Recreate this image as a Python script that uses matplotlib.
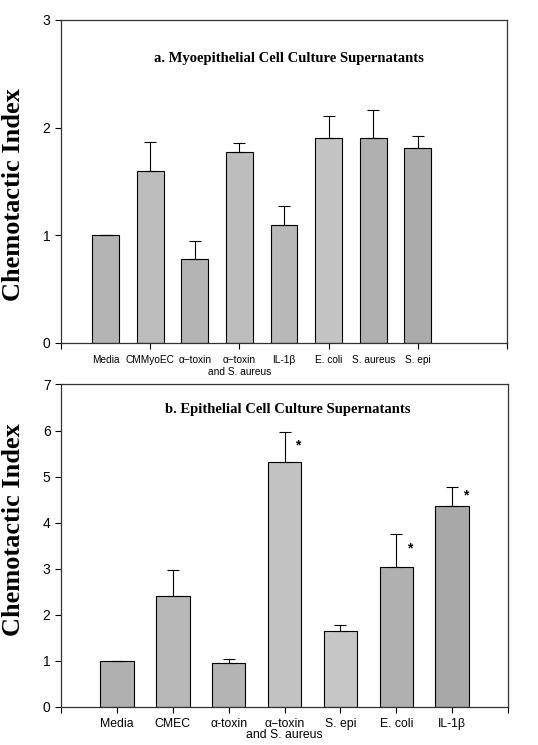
import matplotlib
matplotlib.use('Agg')
import matplotlib.pyplot as plt

# ---- data: panel a (myoepithelial) ----
cats_a = ['Media', 'CMMyoEC', 'α−toxin', 'α−toxin\nand S. aureus', 'IL-1β',
          'E. coli', 'S. aureus', 'S. epi']
vals_a = [1.0, 1.60, 0.78, 1.77, 1.10, 1.90, 1.90, 1.81]
errs_a = [0.0, 0.27, 0.17, 0.09, 0.17, 0.21, 0.26, 0.11]
shade_a = ['#b4b4b4', '#bcbcbc', '#b4b4b4', '#bdbdbd', '#b8b8b8', '#c4c4c4',
           '#b0b0b0', '#ababab']

# ---- data: panel b (epithelial) ----
cats_b = ['Media', 'CMEC', 'α-toxin', 'α−toxin\nand S. aureus', 'S. epi',
          'E. coli', 'IL-1β']
vals_b = [1.0, 2.41, 0.96, 5.31, 1.64, 3.04, 4.35]
errs_b = [0.0, 0.55, 0.07, 0.65, 0.14, 0.71, 0.43]
sig_b = [False, False, False, True, False, True, True]
shade_b = ['#b0b0b0', '#b8b8b8', '#b4b4b4', '#c2c2c2', '#c6c6c6', '#b0b0b0',
           '#a8a8a8']

SERIF = 'Liberation Serif'
SANS = 'Liberation Sans'
plt.rcParams.update({'font.family': SANS, 'font.size': 9})

fig = plt.figure(figsize=(5.38, 7.45), dpi=100)
ax1 = fig.add_axes([0.1134, 0.5396, 0.829, 0.4336])
ax2 = fig.add_axes([0.1134, 0.0514, 0.831, 0.4325])


def style(ax, xsize, pad):
    for s in ax.spines.values():
        s.set_linewidth(0.9)
        s.set_color('#333333')
    ax.tick_params(direction='out', length=4, width=0.8, labelsize=10)
    ax.tick_params(axis='x', which='minor', length=0, labelsize=xsize, pad=pad)
    ax.tick_params(axis='x', which='major', labelsize=xsize, pad=pad)
    ax.set_ylabel('Chemotactic Index', fontfamily=SERIF, fontweight='bold',
                  fontsize=19)


# ---- panel a ----
xa = list(range(1, len(cats_a) + 1))
ax1.bar(xa, vals_a, width=0.6, color=shade_a, edgecolor='black', linewidth=0.8)
ax1.errorbar(xa, vals_a, yerr=[[0] * len(errs_a), errs_a], fmt='none',
             ecolor='black', elinewidth=0.8, capsize=4, capthick=0.8)
ax1.set_xlim(0, 10)
ax1.set_ylim(0, 3)
ax1.set_yticks([0, 1, 2, 3])
ax1.xaxis.remove_overlapping_locs = False
ax1.set_xticks([0, 2, 4, 6, 8, 10])
ax1.set_xticklabels([])
ax1.set_xticks(xa, minor=True)
ax1.set_xticklabels(cats_a, minor=True)
style(ax1, 7.3, 9)
ax1.yaxis.set_label_coords(-0.08, 0.46)
ax1.text(5.12, 2.64, 'a. Myoepithelial Cell Culture Supernatants',
         fontfamily=SERIF, fontweight='bold', fontsize=10.5,
         ha='center', va='center')

# ---- panel b ----
xb = list(range(1, len(cats_b) + 1))
ax2.bar(xb, vals_b, width=0.6, color=shade_b, edgecolor='black', linewidth=0.8)
ax2.errorbar(xb, vals_b, yerr=[[0] * len(errs_b), errs_b], fmt='none',
             ecolor='black', elinewidth=0.8, capsize=4, capthick=0.8)
for x, v, e, s in zip(xb, vals_b, errs_b, sig_b):
    if s:
        ax2.text(x + 0.24, v + e * 0.55, '*', fontsize=10, fontweight='bold',
                 ha='center', va='center')
ax2.set_xlim(0, 8)
ax2.set_ylim(0, 7)
ax2.set_yticks(range(0, 8))
ax2.set_xticks(range(0, 9))
ax2.set_xticklabels([''] + cats_b + [''], linespacing=0.95)
style(ax2, 8.8, 4)
ax2.yaxis.set_label_coords(-0.08, 0.55)
ax2.text(4.05, 6.45, 'b. Epithelial Cell Culture Supernatants',
         fontfamily=SERIF, fontweight='bold', fontsize=10.5,
         ha='center', va='center')

fig.savefig('out.png', dpi=100, facecolor='white')
